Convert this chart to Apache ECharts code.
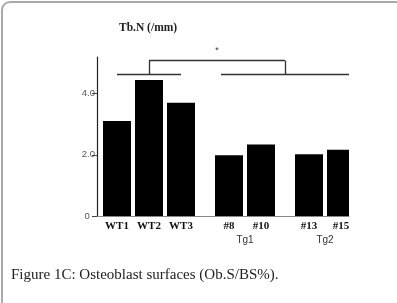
<!DOCTYPE html>
<html>
<head>
<meta charset="utf-8">
<script src="https://cdn.jsdelivr.net/npm/echarts@6/dist/echarts.min.js"></script>
<style>
  html, body { margin: 0; padding: 0; background: #fff; }
  #chart { width: 397px; height: 303px; }
</style>
</head>
<body>
<div id="chart"></div>
<script>
const samples = ['WT1', 'WT2', 'WT3', '#8', '#10', '#13', '#15'];
const groups = ['', '', '', 'Tg1', 'Tg1', 'Tg2', 'Tg2'];
const tbN = [3.11, 4.45, 3.70, 1.99, 2.34, 2.02, 2.17];
const yTicks = [0, 2, 4];
const yMax = 5.2;
const groupLineLevel = 4.62;
const bracketLevel = 5.08;
const caption = 'Figure 1C: Osteoblast surfaces (Ob.S/BS%).';

// lay the bars out on a category axis: one empty slot between bars of a group
// (it carries the group name), two empty slots between groups
const slots = [''];
const values = ['-'];
const barSlot = [];
samples.forEach((name, i) => {
  if (i > 0) {
    if (groups[i] === groups[i - 1]) {
      slots.push(groups[i]);
      values.push('-');
    } else {
      slots.push('', '');
      values.push('-', '-');
    }
  }
  barSlot.push(slots.length);
  slots.push(name);
  values.push(tbN[i]);
});

const seg = (x1, y1, x2, y2, extra) =>
  [Object.assign({ coord: [x1, y1] }, extra || {}), { coord: [x2, y2] }];

const wtMid = barSlot[1];
const tgMid = (barSlot[3] + barSlot[6]) / 2;

const chart = echarts.init(document.getElementById('chart'));

const option = {
  animation: false,
  title: [
    {
      text: 'Tb.N (/mm)',
      left: 119,
      top: 22,
      padding: 0,
      textStyle: { fontFamily: 'Liberation Serif', fontSize: 11.5, fontWeight: 'bold', color: '#222' }
    },
    {
      text: caption,
      left: 11,
      top: 268,
      padding: 0,
      textStyle: { fontFamily: 'Liberation Serif', fontSize: 15, fontWeight: 'normal', color: '#222' }
    }
  ],
  graphic: [
    {
      type: 'rect',
      silent: true,
      shape: { x: 2, y: 2, width: 600, height: 600, r: 8 },
      style: { fill: 'none', stroke: '#aaa', lineWidth: 2 }
    }
  ],
  grid: { left: 93, top: 57, width: 256, height: 159 },
  xAxis: [
    {
      type: 'category',
      data: slots,
      axisLine: { lineStyle: { color: '#888', width: 1 } },
      axisTick: { show: false },
      axisLabel: {
        interval: 0,
        margin: 5,
        formatter: (v, idx) => (barSlot.includes(idx) ? '{b|' + v + '}' : v ? '{g|' + v + '}' : ''),
        rich: {
          b: { fontFamily: 'Liberation Serif', fontWeight: 'bold', fontSize: 11, color: '#111' },
          g: { fontFamily: 'Liberation Sans', fontSize: 10, color: '#333', padding: [14, 0, 0, 0] }
        }
      }
    },
    {
      // hidden helper axis, same slots as numbers, for the significance brackets
      type: 'value',
      show: false,
      min: -0.5,
      max: slots.length - 0.5
    }
  ],
  yAxis: {
    type: 'value',
    min: 0,
    max: yMax,
    offset: -4,
    splitLine: { show: false },
    axisLine: { show: true, onZero: false, lineStyle: { color: '#222', width: 1.2 } },
    axisTick: { show: true, length: 5, customValues: yTicks, lineStyle: { color: '#444' } },
    axisLabel: {
      customValues: yTicks,
      formatter: (v) => (v === 0 ? '0  ' : v.toFixed(1)),
      fontFamily: 'Liberation Sans',
      fontSize: 9.5,
      color: '#555',
      margin: 2
    }
  },
  series: [
    {
      type: 'bar',
      data: values,
      barWidth: 28,
      silent: true,
      itemStyle: { color: '#000' }
    },
    {
      type: 'line',
      xAxisIndex: 1,
      data: [],
      markLine: {
        silent: true,
        symbol: ['none', 'none'],
        lineStyle: { type: 'solid', color: '#333', width: 1.3 },
        label: { show: false },
        data: [
          seg(barSlot[0], groupLineLevel, barSlot[2], groupLineLevel),
          seg(barSlot[3] - 0.5, groupLineLevel, barSlot[6] + 0.5, groupLineLevel),
          seg(wtMid, groupLineLevel, wtMid, bracketLevel),
          seg(tgMid, groupLineLevel, tgMid, bracketLevel),
          seg(wtMid, bracketLevel, tgMid, bracketLevel, {
            label: { show: true, position: 'middle', formatter: '*', fontSize: 9, color: '#333', distance: 6 }
          })
        ]
      }
    }
  ]
};

chart.setOption(option);
</script>
</body>
</html>
